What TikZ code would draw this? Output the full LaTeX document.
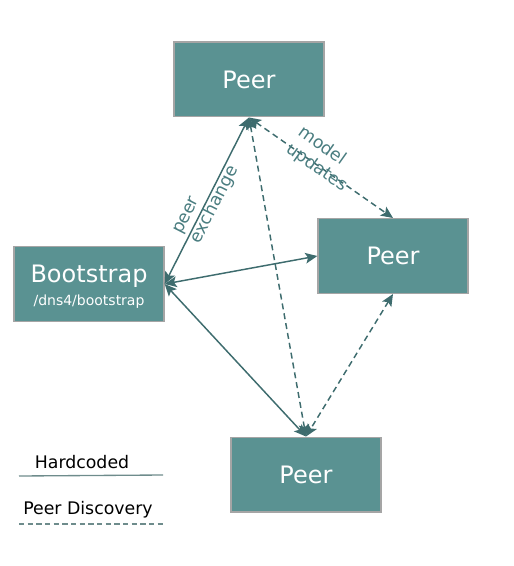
\documentclass[tikz,border=0pt]{standalone}
\usepackage{fontspec}
\setmainfont{DejaVu Sans}
\usetikzlibrary{arrows.meta}

\definecolor{boxfill}{RGB}{90,146,146}
\definecolor{boxline}{RGB}{165,165,165}
\definecolor{linkcol}{RGB}{62,108,110}
\definecolor{labelcol}{RGB}{74,125,128}
\definecolor{legendcol}{RGB}{110,140,140}

\tikzset{
  peerbox/.style={draw=boxline, line width=1pt, fill=boxfill, text=white,
    minimum width=112.5pt, minimum height=56pt, inner sep=0pt,
    font=\fontsize{18}{20}\selectfont},
  hardlink/.style={draw=linkcol, line width=1.1pt,
    {Stealth[length=9pt,width=8pt,inset=2pt]}-{Stealth[length=9pt,width=8pt,inset=2pt]}},
  disclink/.style={hardlink, dash pattern=on 4.5pt off 3pt},
  linklabel/.style={text=labelcol, font=\fontsize{13}{15.5}\selectfont,
    align=left, inner sep=0pt},
  legendtext/.style={text=black, font=\fontsize{13}{14}\selectfont, inner sep=0pt},
  legendline/.style={draw=legendcol, line width=1pt},
}

\begin{document}
\begin{tikzpicture}[x=0.75pt,y=0.75pt,yscale=-1,xscale=1]
\useasboundingbox (0,0) rectangle (513,566);

% Peers
\node[peerbox] (peerTop) at (249,79.5) {Peer};
\node[peerbox] (peerRight) at (393,256) {Peer};
\node[peerbox] (peerBottom) at (306,474.5) {Peer};

% Bootstrap node
\node[peerbox, align=center] (boot) at (89,284)
  {\rule{0pt}{17.5pt}Bootstrap\\[-3pt]{\fontsize{10.5}{12}\selectfont /dns4/bootstrap}};

% Hardcoded links
\draw[hardlink] (boot.east) -- (peerTop.south)
  node[linklabel, pos=0.5, rotate=63] {peer\\exchange};
\draw[hardlink] (boot.east) -- (peerRight.west);
\draw[hardlink] (boot.east) -- (peerBottom.north);

% Discovery links
\draw[disclink] (peerTop.south) -- (peerRight.north)
  node[linklabel, pos=0.48, rotate=-35.3, yshift=6pt] {model\\updates};
\draw[disclink] (peerTop.south) -- (peerBottom.north);
\draw[disclink] (peerRight.south) -- (peerBottom.north);

% Legend
\node[legendtext] (hardTxt) at (82,462) {Hardcoded};
\coordinate (hardA) at (19,476);
\coordinate (hardB) at (163,475);
\draw[legendline] (hardA) -- (hardB);

\node[legendtext] (discTxt) at (88,510) {Peer Discovery};
\coordinate (discA) at (19,524);
\coordinate (discB) at (163,524);
\draw[legendline, dash pattern=on 4pt off 2.5pt] (discA) -- (discB);

\end{tikzpicture}
\end{document}
